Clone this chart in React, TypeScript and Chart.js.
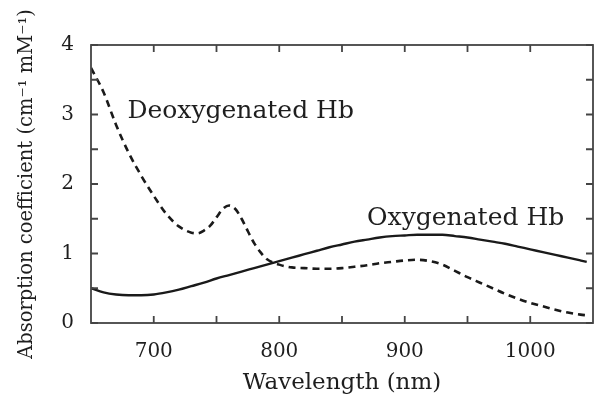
import React, { useEffect, useRef } from "react";
import { Chart, registerables } from "chart.js";

Chart.register(...registerables);

// Oxygenated haemoglobin
const oxyWavelengths = [650, 660, 670, 680, 690, 700, 710, 720, 730, 740, 750, 760, 770, 780, 790, 800, 810, 820, 830, 840, 850, 860, 870, 880, 890, 900, 910, 920, 930, 940, 950, 960, 970, 980, 990, 1000, 1010, 1020, 1030, 1040, 1045];
const oxyValues = [0.5, 0.44, 0.41, 0.4, 0.4, 0.41, 0.44, 0.48, 0.53, 0.58, 0.64, 0.69, 0.74, 0.79, 0.84, 0.89, 0.94, 0.99, 1.04, 1.09, 1.13, 1.17, 1.2, 1.23, 1.25, 1.26, 1.27, 1.27, 1.27, 1.25, 1.23, 1.2, 1.17, 1.14, 1.1, 1.06, 1.02, 0.98, 0.94, 0.9, 0.88];

// Deoxygenated haemoglobin
const deoxyWavelengths = [650, 660, 670, 680, 690, 700, 710, 720, 730, 735, 740, 745, 750, 755, 760, 765, 770, 775, 780, 785, 790, 800, 810, 820, 830, 840, 850, 860, 870, 880, 890, 900, 910, 920, 930, 940, 950, 960, 970, 980, 990, 1000, 1010, 1020, 1030, 1040, 1045];
const deoxyValues = [3.67, 3.32, 2.85, 2.45, 2.12, 1.83, 1.57, 1.39, 1.3, 1.29, 1.33, 1.4, 1.52, 1.64, 1.69, 1.64, 1.5, 1.32, 1.15, 1.02, 0.92, 0.84, 0.8, 0.79, 0.78, 0.78, 0.79, 0.81, 0.83, 0.86, 0.88, 0.9, 0.91, 0.89, 0.84, 0.75, 0.66, 0.58, 0.5, 0.42, 0.35, 0.29, 0.24, 0.19, 0.15, 0.12, 0.11];

const xMajorTicks = [700, 800, 900, 1000];
const xMinorTicks = [750, 850, 950];
const yMajorTicks = [0, 1, 2, 3, 4];
const yMinorTicks = [0.5, 1.5, 2.5, 3.5];

const xLabel = "Wavelength (nm)";
const yLabel = "Absorption coefficient (cm\u207B\u00B9 mM\u207B\u00B9)";

const annotationTexts = ["Deoxygenated Hb", "Oxygenated Hb"];
const annotationX = [679, 870];
const annotationY = [3.05, 1.5];

const FONT = "'DejaVu Serif', serif";
const INK = "#1e1e1e";

const framePlugin = {
  id: "frameTicks",
  afterDatasetsDraw(chart: any) {
    const { ctx, chartArea, scales } = chart;
    const { left, right, top, bottom } = chartArea;
    const xs = scales.x;
    const ys = scales.y;
    const len = 7;
    ctx.save();
    ctx.strokeStyle = "#444";
    ctx.lineWidth = 1.8;
    ctx.strokeRect(left, top, right - left, bottom - top);
    ctx.beginPath();
    [...xMajorTicks, ...xMinorTicks].forEach((v) => {
      const px = xs.getPixelForValue(v);
      ctx.moveTo(px, bottom);
      ctx.lineTo(px, bottom - len);
      ctx.moveTo(px, top);
      ctx.lineTo(px, top + len);
    });
    [...yMajorTicks, ...yMinorTicks].forEach((v) => {
      const py = ys.getPixelForValue(v);
      ctx.moveTo(left, py);
      ctx.lineTo(left + len, py);
      ctx.moveTo(right, py);
      ctx.lineTo(right - len, py);
    });
    ctx.stroke();

    ctx.fillStyle = INK;
    ctx.font = `25px ${FONT}`;
    ctx.textAlign = "left";
    ctx.textBaseline = "middle";
    annotationTexts.forEach((t, i) => {
      ctx.fillText(t, xs.getPixelForValue(annotationX[i]), ys.getPixelForValue(annotationY[i]));
    });
    ctx.restore();
  },
};

export default function App() {
  const ref = useRef<HTMLCanvasElement>(null);

  useEffect(() => {
    if (!ref.current) return;
    const chart = new Chart(ref.current, {
      type: "line",
      data: {
        datasets: [
          {
            label: "Deoxygenated Hb",
            data: deoxyWavelengths.map((x, i) => ({ x, y: deoxyValues[i] })),
            borderColor: "#1a1a1a",
            borderWidth: 2.6,
            borderDash: [7, 5],
            pointRadius: 0,
            tension: 0.4,
            cubicInterpolationMode: "monotone",
            fill: false,
          },
          {
            label: "Oxygenated Hb",
            data: oxyWavelengths.map((x, i) => ({ x, y: oxyValues[i] })),
            borderColor: "#1a1a1a",
            borderWidth: 2.4,
            pointRadius: 0,
            tension: 0.4,
            cubicInterpolationMode: "monotone",
            fill: false,
          },
        ],
      },
      options: {
        animation: false,
        responsive: false,
        maintainAspectRatio: false,
        layout: { padding: { top: 45, right: 4, left: 0, bottom: 0 } },
        plugins: { legend: { display: false }, tooltip: { enabled: false } },
        scales: {
          x: {
            type: "linear",
            min: 650,
            max: 1050,
            grid: { display: false },
            border: { display: false },
            afterBuildTicks: (s: any) => {
              s.ticks = xMajorTicks.map((v) => ({ value: v }));
            },
            afterFit: (s: any) => {
              s.height = 74;
            },
            ticks: {
              color: INK,
              padding: 9,
              maxRotation: 0,
              font: { family: FONT, size: 20 },
              callback: (v: any) => String(v),
            },
            title: {
              display: true,
              text: xLabel,
              color: INK,
              font: { family: FONT, size: 23 },
              padding: { top: 0, bottom: 0 },
            },
          },
          y: {
            type: "linear",
            min: 0,
            max: 4,
            grid: { display: false },
            border: { display: false },
            afterBuildTicks: (s: any) => {
              s.ticks = yMajorTicks.map((v) => ({ value: v }));
            },
            afterFit: (s: any) => {
              s.width = 91;
            },
            ticks: {
              color: INK,
              padding: 9,
              font: { family: FONT, size: 20 },
              callback: (v: any) => String(v),
            },
            title: {
              display: true,
              text: yLabel,
              color: INK,
              font: { family: FONT, size: 19.5 },
              padding: { top: 15, bottom: 0 },
            },
          },
        },
      },
      plugins: [framePlugin],
    } as any);
    return () => chart.destroy();
  }, []);

  return (
    <div style={{ position: "fixed", left: 0, top: 0, width: 597, height: 397, background: "#fff" }}>
      <canvas ref={ref} width={597} height={397} style={{ display: "block" }} />
    </div>
  );
}
